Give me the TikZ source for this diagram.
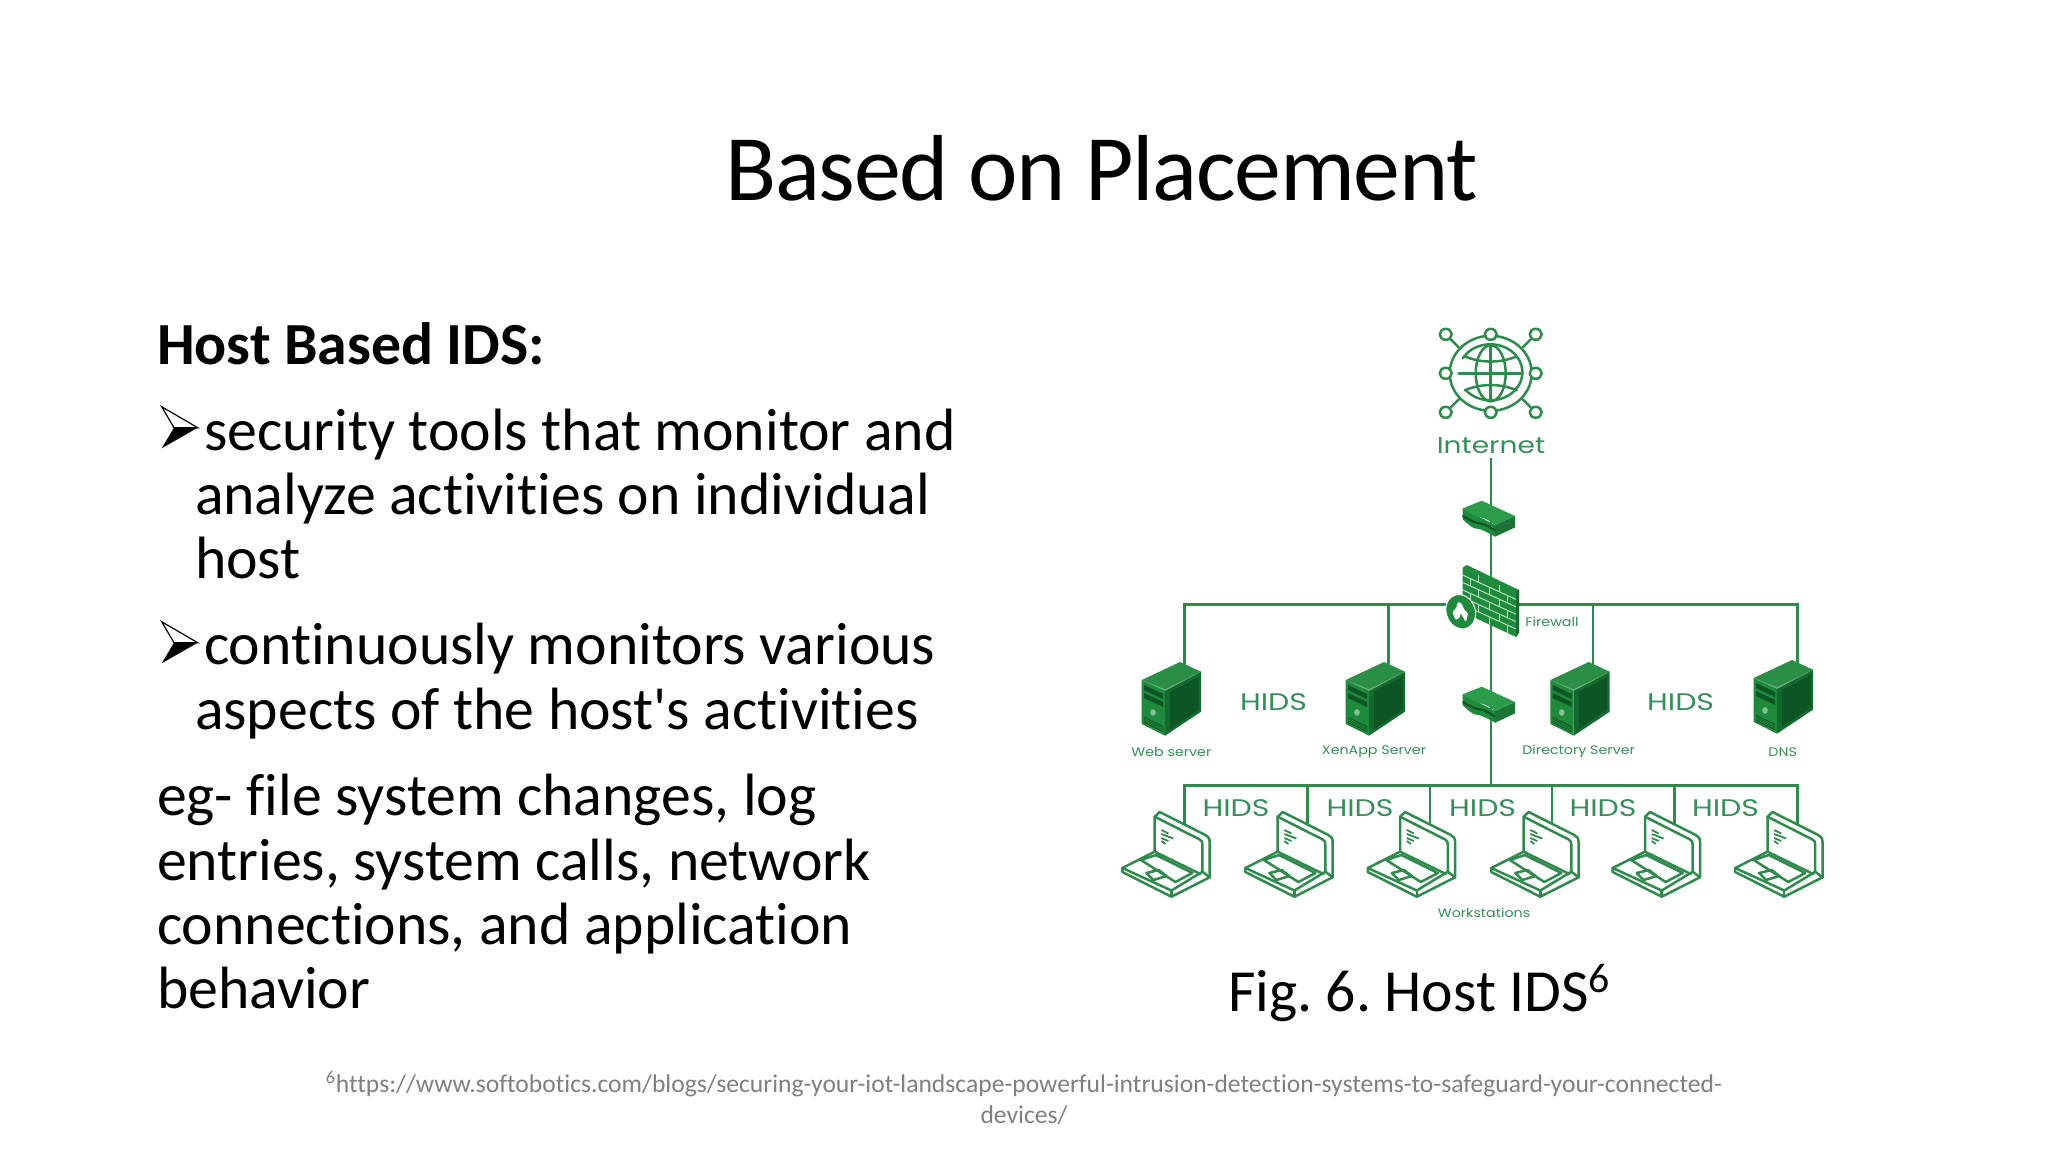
\documentclass[tikz,border=0pt]{standalone}
\usepackage{fontspec}
\setmainfont{Carlito}[Ligatures={TeXOff,NoCommon}]
\newfontfamily\ttl{Carlito}[Ligatures={TeXOff,NoCommon},LetterSpace=-1.45]
\newfontfamily\gf{Poppins}
\definecolor{gline}{HTML}{2E8B4C}
\definecolor{gtext}{HTML}{348F58}
\definecolor{gmid}{HTML}{2A8E46}
\definecolor{gfront}{HTML}{1E8A3C}
\definecolor{gbright}{HTML}{2B9C49}
\definecolor{gdark}{HTML}{14692E}
\definecolor{gdeep}{HTML}{0C5524}
\definecolor{mortar}{HTML}{B8E2C4}
\definecolor{foot}{HTML}{7F7F7F}
\newcommand{\fsz}[1]{\fontsize{#1pt}{#1pt}\selectfont}
\newcommand{\gw}[2]{\scalebox{#1}[1]{#2}}
\frenchspacing
\tikzset{
 x=0.5pt,y=-0.5pt,
 link/.style={draw=gline,line width=1.35pt},
 ic/.style={draw=gline,line width=1.25pt,line join=round,line cap=round},
 body/.style={anchor=base west,inner sep=0,outer sep=0,font=\fsz{29.87},text=black},
 small/.style={anchor=center,inner sep=0,text=gtext,font=\gf\fsz{6.2}},
 hids/.style={anchor=center,inner sep=0,text=gtext,font=\gf\fsz{12}},
 bullet/.pic={
  \draw[black,line width=.6pt,line join=miter] (-36,-21)--(0,0)--(-23.7,0)--cycle;
  \fill[black] (0,0)--(-36,20.6)--(-23.7,0)--cycle;
 },
 server/.pic={
  \fill[gmid] (0,0)--(-38.3,18)--(-15,28.7)--(21,9.7)--cycle;
  \fill[gfront] (-38.3,18)--(-15,28.7)--(-15,73.7)--(-38.3,62)--cycle;
  \fill[gdark] (-15,28.7)--(21,9.7)--(21,49.7)--(-15,73.7)--cycle;
  \fill[gdeep] (-10,30)--(18.5,15)--(18.5,47.5)--(-10,67)--cycle;
  \fill[gmid!70!white] (-38.3,18)--(-15,28.7)--(21,9.7)--(-15,27.2)--cycle;
  \fill[gdeep] (-36,23)--(-17,32)--(-17,37)--(-36,28)--cycle;
  \fill[gdeep] (-36,31)--(-17,40)--(-17,45)--(-36,36)--cycle;
  \fill[gfront!55!white] (-27,50.5) ellipse (2.8 and 3.3);
  \fill[gdeep] (-36,55)--(-17,64)--(-17,70)--(-36,61)--cycle;
  \foreach \k in {1,2,3}{\draw[gfront,line width=.35pt] (-36,55+\k*1.5)--(-17,64+\k*1.5);}
 },
 router/.pic={
  \fill[gfront] (-19,7.7)--(-19,18.7) .. controls (-14,23) and (-10,27) .. (-6.7,27.7) .. controls (0,28) and (6,32) .. (13.3,36)--(13.3,24.3)--cycle;
  \fill[gdark!70!gmid] (13.3,24.3)--(33.3,15.3)--(33.3,26.7)--(13.3,36)--cycle;
  \fill[gbright] (0,0)--(-19,7.7) .. controls (-12,13) and (-6,16) .. (0,17) .. controls (5,18) and (9,21) .. (13.3,24.3)--(33.3,15.3)--cycle;
  \draw[gdeep,line width=1.1pt] (-19,15) .. controls (-12,20) and (-6,22.5) .. (0,23) .. controls (5,24) and (9,27) .. (13.3,30);
 },
 laptop/.pic={
  \fill[white] (-16.7,-79.3)--(-11.7,-84)--(37.7,-58.7)--(38.3,-18.7)--(0,0.7)--(-49,-24)--(-49,-28)--(-16.7,-44.3)--cycle;
  \draw[ic] (-16.7,-44.3)--(-16.7,-79.3)--(-11.7,-84)--(34,-61) .. controls (37,-59.5) and (38,-58) .. (38.3,-54)--(38.3,-18.7)--(0,0.7)--(-49,-24)--(-49,-28)--(-16.7,-44.3)--(29,-22);
  \draw[ic] (-16.7,-79.3)--(28,-56.7) .. controls (30.5,-55.5) and (31,-54) .. (31,-51)--(31,-24.3);
  \draw[ic] (-49,-28)--(0,-5.5)--(31,-24.3)--(38.3,-18.7);
  \draw[ic] (0,-5.5)--(0,0.7);
  \draw[ic] (-30.5,-36)--(-15.4,-41)--(21,-23)--(4,-14)--cycle;
  \draw[ic] (-25,-23)--(-12.7,-26)--(-5,-20)--(-18,-16)--cycle;
  \draw[gline,line width=.9pt] (-10,-66)--(-3,-62.5) (-10,-62)--(2,-57.5) (-10,-58)--(-3,-55) (-10,-55)--(-6,-52);
 },
}
\begin{document}
\begin{tikzpicture}
\useasboundingbox (0,0) rectangle (2048,1152);
% anchors for connectors
\coordinate (inetout) at (1491,458);
\coordinate (rt1) at (1491,506);
\coordinate (fw) at (1491,600);
\coordinate (rt2) at (1491,695);
\coordinate (bus2) at (1491,785.7);
\coordinate (busA) at (1184.7,604.7);
\coordinate (busB) at (1797.4,604.7);
\coordinate (busC) at (1184.7,785.7);
\coordinate (busD) at (1797.4,785.7);
\coordinate (s1) at (1184.7,668);
\coordinate (s2) at (1388.8,668);
\coordinate (s3) at (1592.9,668);
\coordinate (s4) at (1797.4,666);
\coordinate (j2) at (1388.8,604.7);
\coordinate (j3) at (1592.9,604.7);
\coordinate (lpA) at (1184.7,825);
\coordinate (lpB) at (1797.4,825);
% connectors
\draw[link] (inetout)--(rt1);
\draw[link] (rt1)--(fw);
\draw[link] (fw)--(rt2);
\draw[link] (rt2)--(bus2);
\draw[link,line join=miter] (s1)--(busA)--(busB)--(s4);
\draw[link] (j2)--(s2);
\draw[link] (j3)--(s3);
\draw[link,line join=miter] (lpA)--(busC)--(busD)--(lpB);
\foreach \n/\xx in {a/1307.7,b/1430,c/1552,d/1674.5}{
 \coordinate (t\n) at (\xx,785.7);
 \coordinate (l\n) at (\xx,825);
 \draw[link] (t\n)--(l\n);
}
% title and body
\node[body,font=\ttl\fsz{46.9},anchor=base] (title) at (1101.5,200) {Based on Placement};
\node[body,font=\bfseries\fsz{29.87}] (h) at (157,364) {Host Based IDS:};
\pic at (197.7,427.7) {bullet};
\node[body] (l1) at (204,450) {security tools that monitor and};
\node[body] (l2) at (195,514) {analyze activities on individual};
\node[body] (l3) at (195,578) {host};
\pic at (197.7,642.7) {bullet};
\node[body] (l4) at (204,664) {continuously monitors various};
\node[body] (l5) at (195,729) {aspects of the host's activities};
\node[body] (l6) at (157,815) {eg- file system changes, log};
\node[body] (l7) at (157,880) {entries, system calls, network};
\node[body] (l8) at (157,944) {connections, and application};
\node[body] (l9) at (157,1008) {behavior};
\node[body] (cap) at (1228,1011) {Fig. 6. Host IDS\textsuperscript{6}};
\node[anchor=base,inner sep=0,text=foot,font=\fsz{12.8}] (f1) at (1024,1092) {\textsuperscript{6}https://www.softobotics.com/blogs/securing-your-iot-landscape-powerful-intrusion-detection-systems-to-safeguard-your-connected-};
\node[anchor=base,inner sep=0,text=foot,font=\fsz{12.8}] (f2) at (1024,1123) {devices/};
% internet icon
\begin{scope}[shift={(1490.7,373.3)}]
 \draw[ic] (0,0) ellipse (41 and 37.5);
 \foreach \px/\py in {-45/-39,0/-39,45/-39,-45/0,45/0,-45/39,0/39,45/39}{
   \draw[ic,fill=white] (\px,\py) ellipse (6 and 5.5);
 }
 \draw[ic] (-40,-34)--(-32,-26) (40,-34)--(32,-26) (-40,34)--(-32,26) (40,34)--(32,26);
 \draw[ic] (-28,-15) arc[start angle=210,end angle=500,x radius=32,y radius=28];
 \draw[ic] (0,0) ellipse (15 and 28);
 \draw[ic] (0,-28)--(0,28) (-32,0)--(32,0);
 \draw[ic] (-26,-17) .. controls (-10,-10) and (10,-10) .. (26,-17);
 \draw[ic] (-26,17) .. controls (-10,10) and (10,10) .. (26,17);
\end{scope}
\node[small,font=\gf\fsz{11.5}] (inet) at (1491,445.7) {\gw{1.22}{Internet}};
% routers
\pic at (1481.7,500.7) {router};
\pic at (1481.7,686.7) {router};
% firewall
\fill[gdark] (1516,590)--(1519,590)--(1519,633)--(1516,637)--cycle;
\fill[gfront] (1462.7,567.7)--(1466.7,565)--(1519,590)--(1516,591)--(1516,637)--(1462.7,612)--cycle;
\foreach \v in {1,2,3,4,5}{
 \draw[mortar,line width=.5pt] (1462.7,{567.7+7.4*\v})--(1516,{592+7.4*\v});
}
\foreach \v/\a in {0/.3,0/.7,2/.3,2/.7,4/.3,4/.7}{
 \draw[mortar,line width=.5pt] ({1462.7+53*\a},{567.7+24.5*\a+7.4*\v})--({1462.7+53*\a},{567.7+24.5*\a+7.4*(\v+1)});
}
\foreach \v/\a in {1/.15,1/.5,1/.85,3/.15,3/.5,3/.85,5/.5,5/.85}{
 \draw[mortar,line width=.5pt] ({1462.7+53*\a},{567.7+24.5*\a+7.4*\v})--({1462.7+53*\a},{567.7+24.5*\a+7.4*(\v+1)});
}
\fill[gfront,draw=white,line width=.5pt,rotate around={20:(1460.7,611.7)}] (1460.7,611.7) ellipse (14.5 and 17.5);
\fill[white,rounded corners=.6pt] (1455.5,620)--(1452.3,612)--(1456.2,608)--(1458,601.5)--(1462,604)--(1464,609.5)--(1468,613.3)--(1466,622)--(1463,617.5)--(1460.7,613)--(1459.5,618)--cycle;
\node[small] (fwl) at (1552,622) {\gw{1.15}{Firewall}};
% servers
\foreach \ox/\oy in {1180/662,1384/662,1588.7/662,1792/660}{ \pic at (\ox,\oy) {server}; }
\node[small] (n1) at (1171.4,751.7) {\gw{1.15}{Web server}};
\node[small] (n2) at (1374,751.7) {\gw{1.15}{XenApp Server}};
\node[small] (n3) at (1578.6,751.7) {\gw{1.15}{Directory Server}};
\node[small] (n4) at (1782.7,751.7) {\gw{1.15}{DNS}};
% laptops
\foreach \lx in {1171.4,1294.4,1416.8,1540.3,1661.7,1784.2}{ \pic at (\lx,896) {laptop}; }
\node[small] (n5) at (1484,912.7) {\gw{1.15}{Workstations}};
% HIDS labels
\node[hids] (h1) at (1273.5,702) {\gw{1.25}{HIDS}};
\node[hids] (h2) at (1680.6,702) {\gw{1.25}{HIDS}};
\node[hids] (h3) at (1236,808) {\gw{1.25}{HIDS}};
\node[hids] (h4) at (1360,808) {\gw{1.25}{HIDS}};
\node[hids] (h5) at (1482.6,808) {\gw{1.25}{HIDS}};
\node[hids] (h6) at (1603,808) {\gw{1.25}{HIDS}};
\node[hids] (h7) at (1725.5,808) {\gw{1.25}{HIDS}};
\end{tikzpicture}
\end{document}
